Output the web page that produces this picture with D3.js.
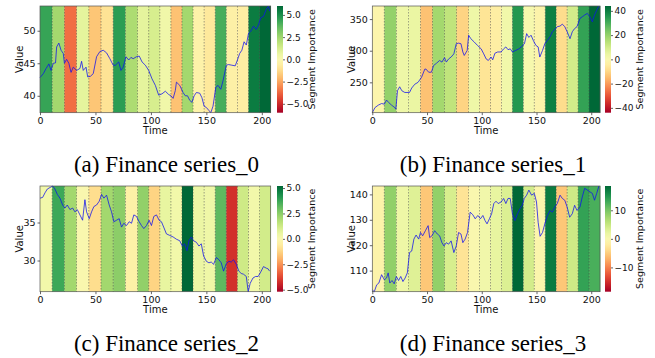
<!DOCTYPE html>
<html>
<head>
<meta charset="utf-8">
<script src="https://cdn.jsdelivr.net/npm/d3@7"></script>
<style>
  body { margin: 0; background: #fff; }
  text { font-family: "DejaVu Sans", sans-serif; fill: #111; }
  .caption { font-family: "Liberation Serif", "Times New Roman", serif; fill: #000; }
</style>
</head>
<body>
<svg id="chart" width="655" height="358"></svg>
<script>
// segment edges along time (20 segments over 208 steps)
const segEdges = [0, 11, 22, 33, 44, 55, 66, 77, 88, 98, 108, 118, 128, 138, 148, 158, 168, 178, 188, 198, 208];
const xTicks = [0, 50, 100, 150, 200];

const captions = ["(a) Finance series_0", "(b) Finance series_1", "(c) Finance series_2", "(d) Finance series_3"];

// segment importance per series
const importance0 = [4.4, 2.4, -3.6, 0.8, -1.8, -1.0, 4.6, 2.2, 0.8, 1.2, 0.4, -1.9, 2.4, -0.4, -0.8, 4.1, -0.5, -0.6, 5.5, 6.0];
const importance1 = [-1.8, 20, 3.5, 4.4, -14, 17.6, 13, -10.6, 3.5, -7, -4.4, 2.6, 35, 0.9, -2.6, 39.6, -8.8, 9.7, 32.6, 44];
const importance2 = [0.3, 3.7, 2.1, 0, -1.0, 2.1, 2.5, -0.4, 2.4, -1.25, 0.6, 0.3, 5.2, 0.5, 0.4, 3.2, -4.2, 1.25, 0.3, 1.15];
const importance3 = [-1.1, 8.5, 1.5, 3, -5.5, 8.5, 3.7, -3, 0, 1.1, 2.2, 3.3, 18.5, 4, -0.7, 17, -5.5, 4.4, 13.7, 12.5];

// [time, value]
const series0 = [[0,42.8],[3,43.4],[5.5,44.2],[8,44.9],[10,43.9],[10.5,44.2],[12,45],[14,45.05],[15,47.5],[17,48.1],[19,47],[21,46.5],[22,45],[24,45.6],[26,45],[28,43.6],[30,44.4],[33,43.9],[36,44.2],[37.5,45.3],[39,43.9],[41.5,44.4],[43,42.9],[45.5,43],[48,43.4],[51,46],[54,46.8],[57,47],[60,46.6],[63,45.7],[66,44.7],[68,44.7],[71,45.2],[73,43.9],[75,44.4],[77.5,46],[80,45.5],[82,45.9],[84,45.7],[87,46],[89.5,46.1],[92,45.2],[95,44.7],[98,43.9],[101,42.6],[104,41.6],[107,40.1],[110,40.3],[113,40.7],[116,40.2],[118,40],[120,39.6],[122,40.8],[123,42.1],[126,41.6],[129,40.5],[131,40],[133,40],[135,39.3],[137,39],[139,40],[141,40.5],[144,40.4],[146,39.7],[148,38.4],[150,38.2],[152.5,37.7],[154,37.4],[156,38.4],[158.5,41.3],[160.5,41.6],[163,41],[165,42.3],[168,44.7],[170,44.8],[173,44.7],[176,44.6],[178,45.5],[180,46.5],[182,47],[184,48.3],[186,47.8],[188,49.6],[190,49.9],[192.5,50.7],[195,50.2],[197,50.9],[199,52],[201.5,52.2],[204,53.3],[206,53.8],[207,53]];
const series1 = [[0,202],[2.4,210],[5.5,214],[8.5,216.5],[11,215.5],[13,222],[15,218],[17.6,214],[20.6,210],[21.5,207.5],[23,236.7],[25,243],[27,236.7],[29.7,234],[34,234],[36,241],[38.8,247],[41.8,250],[45,258],[48,271],[49,271],[51.5,266],[54,266],[56,276.6],[58.5,280],[61.5,284.6],[63.6,282],[66,289],[67.6,282],[69.7,287],[72,290],[74.5,295],[76.7,311],[78.8,312],[81,311],[82.7,298],[84,292.5],[86.7,300.5],[88,324.5],[90,319],[93,314],[96,308.5],[99.4,303],[101.8,295],[104,287],[106,284.6],[108.5,290],[110,285.6],[112,296],[114.5,298],[117.6,298],[120,303],[122,306],[124,301.6],[126,303],[128,298],[131,300.5],[134,303],[136,306],[139,311],[141,327],[143,321],[145,324.5],[147,316.5],[149.4,308.5],[151.5,306],[153,290],[155.5,300.5],[157.6,311],[160,316.5],[162.4,322],[164.5,330],[166.7,333.5],[169,338],[171.5,339],[173.6,342],[175.8,338],[178,330],[180.6,319],[182.7,330],[184.8,335],[187,338],[189.7,351],[191.8,353.7],[194,356.4],[196.4,359],[198.8,353.7],[201,345.7],[203,356.4],[205,364],[207,370.7]];
const series2 = [[0,38.2],[2.4,38.3],[4.5,38.9],[6.6,39.4],[9,39.6],[11.4,39.8],[13.5,39.4],[15.6,38.7],[18,38.2],[20.4,37.3],[22.5,36.9],[24.6,37.3],[27,36.7],[29.4,36.9],[31.5,36.4],[33.6,36.7],[36,36],[38.4,35.3],[40.5,38],[42,36.4],[44.4,35.5],[46.5,36.4],[48.6,37.1],[51,37.3],[53.4,37.8],[55.5,38.7],[57.6,38.2],[60,38.6],[62.4,37.3],[64.5,36.4],[66.6,35.1],[69,35.3],[71.4,35.5],[73.5,34.4],[75.6,34.9],[78,34.6],[80.4,35.1],[82.5,34.9],[84.6,36],[87,35.8],[89.4,35.1],[91.5,34.6],[93.6,34.2],[96,34.6],[98.4,35.3],[100.5,34.6],[102.6,35.8],[105,36],[107.4,35.3],[109.5,35.1],[111.5,34.4],[114,33.5],[117,33.3],[120,33.1],[123,32.8],[126,32.6],[128.3,31.9],[130.4,32.2],[132.5,31.3],[134.3,32.6],[136.4,33.1],[138.5,32.6],[141,32.4],[143.3,31.9],[145.4,32.2],[147.5,30.6],[150,29.9],[152.3,29.7],[154.4,29.8],[156.5,29.5],[159,30.4],[161.3,30.1],[163.4,29.7],[165.5,28.6],[168,29.6],[170.3,29.9],[172.4,29.8],[174.5,30.1],[177,29.5],[179.3,28.6],[181.4,28.3],[183.5,28.2],[186,27.9],[187.7,25.9],[189.5,27],[192,27.7],[194.3,27.9],[196.7,27.9],[199.4,28.6],[201.5,29.2],[204,29],[205.7,28.9],[207,28.6]];
const series3 = [[0,102.4],[1.8,101.7],[4,104.4],[6,105.1],[8.5,108.4],[11,106.4],[13,107.1],[14.5,109.1],[16,105.1],[18,106.1],[20,104.8],[22,107.7],[24,106.1],[26,107.7],[28,105.7],[30,107.1],[32,109.1],[34,117.1],[36,117.7],[38,122.4],[40,124],[42.4,122.4],[44,125],[46,123.7],[48.5,125.7],[51,127.7],[52.4,123],[54.5,123.7],[57,125.7],[59.4,124.4],[61.5,123.7],[63.6,121],[65.5,119.7],[67.6,121],[69.7,120.4],[72,121.7],[74.5,117.1],[76.7,119.7],[78.8,125],[81,124.4],[82.7,121],[84.8,122.4],[87,125],[89.4,133],[91.8,132],[94,130.4],[96.4,131.7],[98.8,130.4],[101,131.7],[103,129.7],[104.8,128.4],[107,130.4],[109,132.4],[111,136.4],[113,137.3],[115,136.4],[117.6,137],[120,138.4],[122,136.4],[124,138.4],[126,138.4],[128,132.4],[130.3,129.7],[132.7,132.4],[135,134.4],[137,135.7],[138.8,138.4],[141,139.7],[143,141.7],[145.5,139.7],[148,140.4],[150,137],[151.5,129],[153.3,123.5],[155.5,125],[157.6,128.4],[160,131.7],[162.4,133.7],[164.5,133],[166.7,135],[169,136.4],[171.5,139.7],[173.6,138.4],[175.8,137.7],[178,135],[180.3,131],[182.7,132.4],[184.8,135.7],[187,133.7],[189.7,135],[191.8,139],[194,142.4],[196.4,141.7],[198.8,141],[201,140.4],[203,137.7],[205,140.4],[207,143.3]];

const yTicks0 = [40, 45, 50];
const yTicks1 = [250, 300, 350];
const yTicks2 = [30, 35];
const yTicks3 = [110, 120, 130, 140];

const cbTicks0 = [-5, -2.5, 0, 2.5, 5];
const cbTicks1 = [-40, -20, 0, 20, 40];
const cbTicks2 = [-5, -2.5, 0, 2.5, 5];
const cbTicks3 = [-10, 0, 10];

const svg = d3.select("#chart");
const defs = svg.append("defs");

// layout of the four panels
const cols = [{left: 40, right: 270.7, cb: 277, cap: 166.5}, {left: 372.3, right: 600, cb: 605, cap: 493}];
const rows = [{top: 6, bottom: 112.7, cap: 172}, {top: 186, bottom: 291.7, cap: 351}];

const panels = [
    {series: series0, imp: importance0, yTicks: yTicks0, cbTicks: cbTicks0, col: cols[0], row: rows[0]},
    {series: series1, imp: importance1, yTicks: yTicks1, cbTicks: cbTicks1, col: cols[1], row: rows[0]},
    {series: series2, imp: importance2, yTicks: yTicks2, cbTicks: cbTicks2, col: cols[0], row: rows[1]},
    {series: series3, imp: importance3, yTicks: yTicks3, cbTicks: cbTicks3, col: cols[1], row: rows[1]}
];

panels.forEach((p, i) => {
    const {left, right, cb} = p.col;
    const {top, bottom} = p.row;
    const g = svg.append("g");

    const x = d3.scaleLinear().domain([segEdges[0], segEdges[segEdges.length - 1]]).range([left, right]);
    const y = d3.scaleLinear().domain(d3.extent(p.series, d => d[1])).range([bottom, top]);
    const vmax = d3.max(p.imp, d => Math.abs(d));
    const color = d3.scaleSequential(d3.interpolateRdYlGn).domain([-vmax, vmax]);

    // coloured segments
    g.selectAll(".seg")
        .data(p.imp)
        .enter().append("rect")
        .attr("class", "seg")
        .attr("x", (d, k) => x(segEdges[k]))
        .attr("width", (d, k) => x(segEdges[k + 1]) - x(segEdges[k]) + 0.3)
        .attr("y", top)
        .attr("height", bottom - top)
        .attr("fill", d => color(d));

    // segment boundaries
    g.selectAll(".edge")
        .data(segEdges.slice(1, -1))
        .enter().append("line")
        .attr("x1", d => x(d)).attr("x2", d => x(d))
        .attr("y1", top).attr("y2", bottom)
        .attr("stroke", "#444")
        .attr("stroke-width", 0.7)
        .attr("stroke-dasharray", "1.5,1.5")
        .attr("opacity", 0.7);

    const line = d3.line().x(d => x(d[0])).y(d => y(d[1]));
    g.append("path")
        .datum(p.series)
        .attr("d", line)
        .attr("fill", "none")
        .attr("stroke", "#1010ee")
        .attr("stroke-width", 0.9)
        .attr("opacity", 0.85);

    g.append("rect")
        .attr("x", left).attr("y", top)
        .attr("width", right - left).attr("height", bottom - top)
        .attr("fill", "none").attr("stroke", "#555").attr("stroke-width", 0.7);

    const xAxis = g.append("g")
        .attr("transform", "translate(0," + bottom + ")")
        .call(d3.axisBottom(x).tickValues(xTicks).tickSize(2.5).tickPadding(2));
    const yAxis = g.append("g")
        .attr("transform", "translate(" + left + ",0)")
        .call(d3.axisLeft(y).tickValues(p.yTicks).tickSize(2.5).tickPadding(2));
    [xAxis, yAxis].forEach(a => {
        a.select(".domain").remove();
        a.selectAll("line").attr("stroke", "#222").attr("stroke-width", 0.7);
        a.selectAll("text").attr("font-size", "9.5px").attr("fill", "#111")
            .attr("font-family", "DejaVu Sans");
    });

    g.append("text")
        .attr("x", (left + right) / 2).attr("y", bottom + 21)
        .attr("text-anchor", "middle").attr("font-size", "10px")
        .text("Time");
    g.append("text")
        .attr("transform", "translate(" + (left - 17) + "," + ((top + bottom) / 2) + ") rotate(-90)")
        .attr("text-anchor", "middle").attr("font-size", "10px")
        .text("Value");

    // colorbar
    const gid = "cbgrad" + i;
    const grad = defs.append("linearGradient")
        .attr("id", gid)
        .attr("x1", 0).attr("y1", 1).attr("x2", 0).attr("y2", 0);
    d3.range(0, 1.001, 0.05).forEach(t => {
        grad.append("stop").attr("offset", t).attr("stop-color", d3.interpolateRdYlGn(t));
    });
    const cbW = 6;
    g.append("rect")
        .attr("x", cb).attr("y", top)
        .attr("width", cbW).attr("height", bottom - top)
        .attr("fill", "url(#" + gid + ")");

    const cScale = d3.scaleLinear().domain([-vmax, vmax]).range([bottom, top]);
    const fmt = p.cbTicks.some(v => !Number.isInteger(v)) ? d3.format(".1f") : d3.format("d");
    const cAxis = g.append("g")
        .attr("transform", "translate(" + (cb + cbW) + ",0)")
        .call(d3.axisRight(cScale).tickValues(p.cbTicks).tickFormat(fmt).tickSize(2).tickPadding(1.5));
    cAxis.select(".domain").remove();
    cAxis.selectAll("line").attr("stroke", "#222").attr("stroke-width", 0.7);
    cAxis.selectAll("text").attr("font-size", "9px").attr("fill", "#111")
        .attr("font-family", "DejaVu Sans");

    g.append("text")
        .attr("transform", "translate(" + (cb + cbW + 32) + "," + ((top + bottom) / 2) + ") rotate(-90)")
        .attr("text-anchor", "middle").attr("font-size", "9.5px")
        .text("Segment Importance");

    svg.append("text")
        .attr("class", "caption")
        .attr("x", p.col.cap).attr("y", p.row.cap)
        .attr("text-anchor", "middle").attr("font-size", "23px")
        .text(captions[i]);
});
</script>
</body>
</html>
